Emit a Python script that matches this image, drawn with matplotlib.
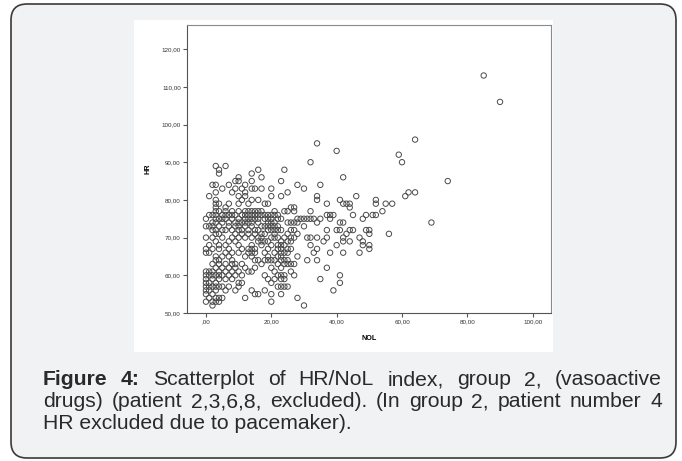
import numpy as np
import matplotlib
matplotlib.use("Agg")
from matplotlib import pyplot as plt
from matplotlib.patches import FancyBboxPatch, Rectangle

plt.rcParams['font.family'] = ['Liberation Sans', 'DejaVu Sans']

# HR values, grouped by NoL (dense part, NoL 0..30)
hr_by_nol_low = [
    (0, [53, 55, 56, 57, 58, 59, 60, 61, 66, 67, 70, 73, 75]),
    (1, [54, 56, 57, 58, 60, 61, 66, 68, 73, 76, 81]),
    (2, [52, 53, 55, 57, 59, 60, 61, 63, 67, 70, 72, 73, 74, 76, 84]),
    (3, [53, 54, 56, 57, 58, 60, 62, 64, 65, 69, 71, 72, 74, 75, 76, 77, 78, 79, 80, 82, 84, 89]),
    (4, [53, 54, 57, 59, 60, 61, 63, 64, 67, 68, 71, 73, 75, 77, 79, 87, 88]),
    (5, [54, 57, 60, 62, 65, 70, 72, 74, 75, 76, 83]),
    (6, [56, 59, 61, 63, 66, 68, 72, 75, 76, 77, 78, 89]),
    (7, [57, 60, 62, 65, 67, 69, 73, 74, 76, 79, 84]),
    (8, [59, 61, 63, 64, 66, 70, 72, 75, 76, 77, 82]),
    (9, [56, 60, 62, 63, 69, 71, 73, 74, 76, 83, 85]),
    (10, [57, 58, 61, 66, 68, 70, 72, 73, 74, 75, 77, 79, 81, 85, 86]),
    (11, [58, 60, 63, 67, 71, 72, 74, 76, 80, 83]),
    (12, [54, 62, 65, 70, 73, 74, 75, 76, 77, 81, 82, 84]),
    (13, [61, 66, 67, 71, 72, 74, 75, 76, 77, 79]),
    (14, [56, 61, 65, 66, 67, 68, 70, 73, 74, 75, 76, 77, 80, 83, 85, 87]),
    (15, [55, 62, 64, 66, 67, 71, 72, 75, 76, 77, 83]),
    (16, [55, 64, 69, 70, 72, 74, 75, 76, 77, 80, 88]),
    (17, [63, 68, 69, 70, 71, 73, 76, 77, 83, 86]),
    (18, [56, 60, 64, 66, 69, 71, 73, 75, 76, 79]),
    (19, [59, 64, 65, 67, 69, 72, 73, 74, 75, 76, 79]),
    (20, [53, 55, 58, 62, 64, 68, 70, 72, 73, 74, 75, 76, 81, 83]),
    (21, [59, 61, 64, 66, 70, 71, 72, 73, 74, 76, 77]),
    (22, [57, 60, 63, 65, 67, 68, 70, 72, 73, 75, 76]),
    (23, [55, 57, 59, 60, 62, 64, 65, 66, 67, 68, 69, 72, 75, 81, 85]),
    (24, [57, 59, 60, 63, 64, 66, 68, 70, 77, 88]),
    (25, [57, 63, 64, 66, 67, 69, 71, 74, 77, 82]),
    (26, [61, 63, 67, 69, 70, 72, 74, 78]),
    (27, [60, 63, 70, 72, 74, 77, 78]),
    (28, [54, 65, 71, 74, 75, 84]),
    (29, [75]),
    (30, [52, 73, 75, 83]),
]

# sparse part, NoL > 30
nol_high = [31, 31, 31, 32, 32, 32, 32, 32, 33, 33, 34, 34, 34, 34, 34, 34, 34,
            35, 35, 35, 36, 37, 37, 37, 37, 37, 38, 38, 38, 39, 39, 40, 40, 40,
            41, 41, 41, 41, 41, 42, 42, 42, 42, 42, 42, 43, 43, 44, 44, 44, 44,
            45, 45, 46, 47, 47, 48, 48, 48, 49, 49, 50, 50, 50, 50, 51, 52, 52, 52,
            54, 55, 56, 57, 59, 60, 61, 62, 64, 64, 69, 74, 85, 90]
hr_high = [70, 64, 75, 90, 77, 75, 70, 68, 75, 66, 95, 81, 80, 74, 70, 67, 64,
           84, 75, 59, 69, 79, 76, 72, 70, 62, 76, 75, 66, 76, 56, 93, 72, 68,
           80, 74, 72, 60, 58, 86, 79, 74, 70, 69, 66, 79, 71, 78, 79, 72, 69,
           76, 72, 81, 70, 66, 75, 69, 68, 76, 72, 72, 71, 68, 67, 76, 80, 79, 76,
           77, 79, 71, 79, 92, 90, 81, 82, 82, 96, 74, 85, 113, 106]

x_ticks = [0, 20, 40, 60, 80, 100]
y_ticks = [50, 60, 70, 80, 90, 100, 110, 120]

caption_lines = [
    [("Figure", "bold"), ("4:", "bold"), ("Scatterplot", "normal"), ("of", "normal"),
     ("HR/NoL", "normal"), ("index,", "normal"), ("group", "normal"), ("2,", "normal"),
     ("(vasoactive", "normal")],
    [(w, "normal") for w in "drugs) (patient 2,3,6,8, excluded). (In group 2, patient number 4".split()],
]
caption_last = "HR excluded due to pacemaker)."

nol = []
hr = []
for x, ys in hr_by_nol_low:
    for y in ys:
        nol.append(x)
        hr.append(y)
nol = np.array(nol + nol_high, dtype=float)
hr = np.array(hr + hr_high, dtype=float)

W, H = 682, 461
fig = plt.figure(figsize=(W / 100, H / 100), dpi=100)
fig.patch.set_facecolor("white")

# background in pixel coordinates
bg = fig.add_axes([0, 0, 1, 1])
bg.set_xlim(0, W)
bg.set_ylim(H, 0)
bg.axis("off")
bg.add_patch(FancyBboxPatch((11, 4), 665, 454, boxstyle="round,pad=0,rounding_size=16",
                            fc="#f1f2f4", ec="#3a3a3a", lw=1.2))
bg.add_patch(Rectangle((134, 20), 419, 332, fc="white", ec="none"))

# justified caption
fig.canvas.draw()
r = fig.canvas.get_renderer()
fs = 15.2
x0, x1 = 43, 662
baselines = [385, 407, 429]
for line, yb in zip(caption_lines, baselines):
    texts = [bg.text(0, yb, w, fontsize=fs, fontweight=wt, color="#2a2a2a", va="baseline")
             for w, wt in line]
    widths = [t.get_window_extent(r).width for t in texts]
    gap = (x1 - x0 - sum(widths)) / (len(texts) - 1)
    x = x0
    for t, w in zip(texts, widths):
        t.set_x(x)
        x += w + gap
bg.text(x0, baselines[2], caption_last, fontsize=fs, color="#2a2a2a", va="baseline")

# scatter plot
ax = fig.add_axes([187 / W, 1 - 313 / H, 364 / W, 288 / H])
ax.scatter(nol, hr, s=15, facecolors="none", edgecolors="#4a4a4a", linewidths=0.7)
ax.set_xlim(-5.8, 105.6)
ax.set_ylim(50, 126.4)
ax.set_xticks(x_ticks)
ax.set_yticks(y_ticks)
fmt = lambda v: ",00" if v == 0 else f"{v:.2f}".replace(".", ",")
ax.set_xticklabels([fmt(v) for v in x_ticks])
ax.set_yticklabels([fmt(v) for v in y_ticks])
ax.tick_params(length=3, width=0.8, color="#555555", labelsize=4.5, labelcolor="#333333", pad=1.5)
for s in ax.spines.values():
    s.set_color("#8a8a8a")
    s.set_linewidth(0.8)
ax.spines["left"].set_color("#555555")
ax.spines["bottom"].set_color("#555555")
ax.set_xlabel("NOL", fontsize=5.2, fontweight="bold", labelpad=8)
ax.set_ylabel("HR", fontsize=5.2, fontweight="bold", labelpad=7)

fig.savefig("out.png", dpi=100)
